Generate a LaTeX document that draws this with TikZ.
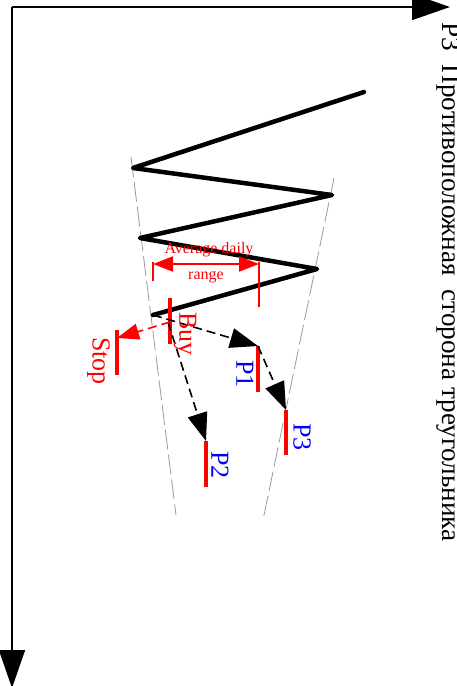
\documentclass[tikz,border=0pt]{standalone}
\usepackage{fontspec}
\setmainfont{Liberation Serif}
\usetikzlibrary{arrows.meta}
\begin{document}
\begin{tikzpicture}[x=1pt,y=-1pt,
  axis/.style={line width=1.6pt,-{Triangle[length=38pt,width=26pt]}},
  zig/.style={line width=4.5pt,line join=round,line cap=round},
  guide/.style={black!40,line width=0.8pt,dash pattern=on 20pt off 5pt},
  pricelevel/.style={red,line width=4pt},
  pathmove/.style={line width=1.6pt,dash pattern=on 9pt off 5pt,-{Triangle[length=28pt,width=20pt]}},
  stopmove/.style={red,line width=1.6pt,dash pattern=on 9pt off 5pt,-{Triangle[length=22pt,width=16pt]}},
  lbl/.style={font=\fontsize{26}{30}\selectfont,rotate=-90,inner sep=0pt},
  titlelbl/.style={font=\fontsize{27.2}{30}\selectfont,rotate=-90,inner sep=0pt},
  small/.style={red,font=\fontsize{16}{18}\selectfont,inner sep=0pt},
  dim/.style={red,line width=2pt,{Triangle[length=20pt,width=15pt]}-{Triangle[length=20pt,width=15pt]}},
  dimtick/.style={red,line width=2pt}]
\useasboundingbox (0,0) rectangle (457,686);
% axes
\coordinate (O) at (12,7);
\coordinate (Xend) at (450,7);
\coordinate (Yend) at (12,688);
\draw[axis] (O) -- (Xend);
\draw[axis] (O) -- (Yend);
\node[titlelbl,anchor=base west] (title) at (442,22) {P3\ \ Противоположная\ \ сторона треугольника};
% guides
\coordinate (gL1) at (131,157);
\coordinate (gL2) at (176,515);
\coordinate (gR1) at (334,178);
\coordinate (gR2) at (263,520);
\draw[guide] (gL1) -- (gL2);
\draw[guide] (gR1) -- (gR2);
% zigzag
\coordinate (V0) at (364,92);
\coordinate (V1) at (133,168);
\coordinate (V2) at (332,195);
\coordinate (V3) at (140,238);
\coordinate (V4) at (317,269);
\coordinate (V5) at (153,315);
\draw[zig] (V0) -- (V1) -- (V2) -- (V3) -- (V4) -- (V5);
% average daily range
\coordinate (dA1) at (153,262);
\coordinate (dA2) at (153,281);
\coordinate (dB1) at (259,262);
\coordinate (dB2) at (259,307);
\coordinate (dL) at (153,264);
\coordinate (dR) at (259,264);
\draw[dimtick] (dA1) -- (dA2);
\draw[dimtick] (dB1) -- (dB2);
\draw[dim] (dL) -- (dR);
\node[small] (adr1) at (209,250) {Average daily};
\node[small] (adr2) at (206,277.5) {range};
% price levels
\coordinate (buyT) at (170,298);
\coordinate (buyB) at (170,344);
\coordinate (stopT) at (117,330);
\coordinate (stopB) at (117,375);
\coordinate (p1T) at (258,346);
\coordinate (p1B) at (258,392);
\coordinate (p2T) at (206,441);
\coordinate (p2B) at (206,487);
\coordinate (p3T) at (286,410);
\coordinate (p3B) at (286,455);
\draw[pricelevel] (buyT) -- (buyB);
\draw[pricelevel] (stopT) -- (stopB);
\draw[pricelevel] (p1T) -- (p1B);
\draw[pricelevel] (p2T) -- (p2B);
\draw[pricelevel] (p3T) -- (p3B);
% moves
\coordinate (buyO) at (168,322);
\coordinate (stopO) at (170,322);
\coordinate (stopTip) at (117,338);
\draw[pathmove] (V5) -- (p1T);
\draw[pathmove] (buyO) -- (p2T);
\draw[pathmove] (p1T) -- (p3T);
\draw[stopmove] (stopO) -- (stopTip);
% labels
\node[lbl,red] (buy) at (185,334) {Buy};
\node[lbl,red] (stop) at (98.5,361) {Stop};
\node[lbl,blue] (p1) at (245,374) {P1};
\node[lbl,blue] (p2) at (220,465) {P2};
\node[lbl,blue] (p3) at (302,437) {P3};
\end{tikzpicture}
\end{document}
